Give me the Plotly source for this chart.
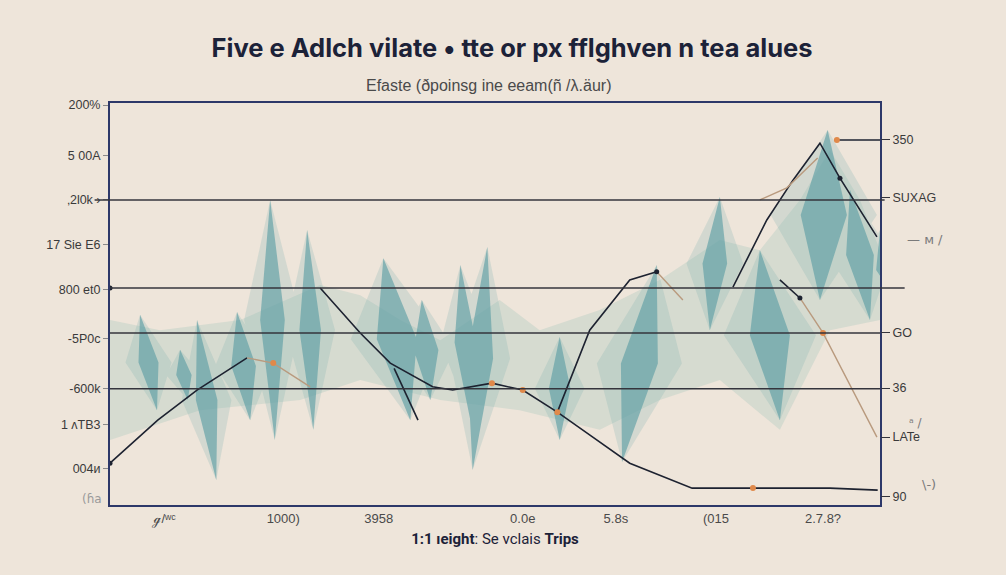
import plotly.graph_objects as go

# ---------------- data ----------------
x_tick_vals = [7.1, 22.5, 34.9, 53.6, 65.7, 78.7, 92.6]
x_tick_text = ["ℊ/ʷᶜ", "1000)", "3958", "0.0e", "5.8s", "(015", "2.7.8?"]

left_tick_vals = [99.5, 87.0, 76.0, 64.7, 53.5, 41.5, 29.0, 20.0, 9.0]
left_tick_text = ["200%", "5 00A", "\u201a2l0k \u203a", "17 Sie E6", "800 et0", "-5P0c", "-600k", "1 \u028cTB3", "004\u1d0e"]

right_tick_vals = [90.8, 76.4, 42.8, 29.1, 16.9, 2.0]
right_tick_text = ["350", "SUXAG", "GO", "36", "LATe", "90"]

grid_levels = [75.9, 54.0, 42.8, 28.9]

# teal blades: top point, bottom point, half width at the middle
blade_top_x = [3.9, 9.1, 11.3, 16.5, 20.8, 25.6, 35.5, 40.5, 45.5, 49.0, 58.4, 71.0, 79.2, 84.4, 93.2, 96.1, 100.0]
blade_top_y = [47.3, 38.6, 46.0, 48.0, 75.9, 68.4, 61.4, 51.0, 59.7, 64.2, 41.8, 59.7, 76.6, 63.4, 93.3, 78.4, 68.4]
blade_bot_x = [6.1, 10.1, 13.8, 18.2, 21.4, 26.4, 39.0, 41.6, 46.8, 47.1, 58.4, 66.5, 77.9, 87.0, 92.2, 98.7, 103.0]
blade_bot_y = [23.6, 26.1, 6.2, 21.1, 16.2, 18.7, 21.1, 26.1, 21.1, 8.7, 16.2, 10.7, 43.5, 21.1, 51.0, 46.0, 48.5]
blade_half_w = [1.3, 1.0, 1.4, 1.6, 1.6, 1.4, 2.6, 1.6, 1.4, 1.7, 1.4, 2.4, 1.6, 2.6, 3.0, 1.8, 2.0]

# soft sage haze band
sage_up_x = [0, 6.5, 16.9, 27.3, 32.5, 37.7, 42.9, 50.6, 55.8, 63.6, 71.4, 79.2, 84.4, 89.6, 93.5, 97.4, 100]
sage_up_y = [46.0, 43.5, 46.0, 54.7, 52.2, 46.0, 41.0, 51.0, 43.5, 48.5, 56.0, 65.9, 63.4, 75.9, 88.3, 75.9, 63.4]
sage_lo_x = [0, 11.7, 24.7, 32.5, 42.9, 53.2, 63.6, 71.4, 79.2, 87.0, 93.5, 100]
sage_lo_y = [16.2, 23.6, 26.1, 31.1, 26.1, 23.6, 18.7, 26.1, 31.1, 18.7, 43.5, 46.0]

# dark line series
dark1_x = [0, 6.2, 11.3, 17.8]
dark1_y = [10.4, 21.1, 28.6, 36.6]
dark2_x = [27.3, 32.5, 36.4, 41.9, 44.5, 49.6, 53.6, 58.1, 62.7, 67.5, 75.6, 83.5, 93.5, 99.7]
dark2_y = [54.0, 42.8, 35.3, 29.4, 28.6, 30.3, 28.6, 23.1, 16.9, 10.4, 4.2, 4.2, 4.2, 3.7]
dark3_x = [58.1, 62.3, 67.5, 71.0]
dark3_y = [23.1, 43.5, 56.0, 58.0]
dark4_x = [80.9, 85.3, 88.7, 92.2, 94.8, 99.6]
dark4_y = [54.2, 70.9, 80.8, 90.0, 81.3, 66.7]
dark5_x = [94.4, 100]
dark5_y = [90.8, 90.8]
dark6_x = [36.9, 40.0]
dark6_y = [34.0, 21.1]
dark7_x = [87.0, 89.6]
dark7_y = [56.0, 51.5]

# tan series
tan1_x = [17.8, 21.2, 26.0]
tan1_y = [36.6, 35.3, 29.4]
tan2_x = [71.0, 74.4]
tan2_y = [58.0, 51.0]
tan3_x = [84.4, 87.9, 91.9]
tan3_y = [75.9, 78.9, 86.3]
tan4_x = [89.6, 92.6, 99.6]
tan4_y = [51.5, 42.8, 16.9]

orange_x = [21.2, 49.6, 53.6, 58.1, 83.5, 94.4, 92.6]
orange_y = [35.3, 30.3, 28.6, 23.1, 4.2, 90.8, 42.8]
dot_x = [0, 0, 71.0, 89.6, 94.8]
dot_y = [54.0, 10.4, 58.0, 51.5, 81.3]

# ---------------- figure ----------------
BG = "#eee5da"
NAVY = "#2d3869"
DARK = "#1d2230"
TAN = "#b99a7e"
ORANGE = "#e0894a"

fig = go.Figure()

# sage haze
fig.add_trace(go.Scatter(x=sage_lo_x, y=sage_lo_y, mode="lines", line=dict(width=0), hoverinfo="skip", showlegend=False))
fig.add_trace(go.Scatter(x=sage_up_x, y=sage_up_y, mode="lines", line=dict(width=0), fill="tonexty",
                         fillcolor="rgba(160,196,186,0.30)", hoverinfo="skip", showlegend=False))


def blade_polys(scale):
    bx, by = [], []
    for tx, ty, qx, qy, w in zip(blade_top_x, blade_top_y, blade_bot_x, blade_bot_y, blade_half_w):
        mx, my = (tx + qx) / 2, (ty + qy) / 2
        bx += [tx, mx + w * scale, qx, mx - w * scale, tx, None]
        by += [ty, my, qy, my, ty, None]
    return bx, by


# faint wide halo of the blades
hx, hy = blade_polys(2.3)
fig.add_trace(go.Scatter(x=hx, y=hy, mode="lines", line=dict(width=0), fill="toself",
                         fillcolor="rgba(120,172,172,0.22)", hoverinfo="skip", showlegend=False))
# teal blades
bx, by = blade_polys(1.0)
fig.add_trace(go.Scatter(x=bx, y=by, mode="lines", line=dict(width=0), fill="toself",
                         fillcolor="rgba(95,160,165,0.66)", hoverinfo="skip", showlegend=False))

for xs, ys in [(dark1_x, dark1_y), (dark2_x, dark2_y), (dark3_x, dark3_y), (dark4_x, dark4_y),
               (dark5_x, dark5_y), (dark6_x, dark6_y), (dark7_x, dark7_y)]:
    fig.add_trace(go.Scatter(x=xs, y=ys, mode="lines", line=dict(color=DARK, width=1.6), showlegend=False))
for xs, ys in [(tan1_x, tan1_y), (tan2_x, tan2_y), (tan3_x, tan3_y), (tan4_x, tan4_y)]:
    fig.add_trace(go.Scatter(x=xs, y=ys, mode="lines", line=dict(color=TAN, width=1.4), showlegend=False))

fig.add_trace(go.Scatter(x=orange_x, y=orange_y, mode="markers", marker=dict(color=ORANGE, size=6), showlegend=False))
fig.add_trace(go.Scatter(x=dot_x, y=dot_y, mode="markers", marker=dict(color=DARK, size=5), showlegend=False))

# right axis carrier
fig.add_trace(go.Scatter(x=[None], y=[None], yaxis="y2", showlegend=False))

shapes = []
grid_extent = {75.9: (-0.02, 1.006), 54.0: (0, 1.032), 42.8: (0, 1.0), 28.9: (0, 1.0)}
for lv in grid_levels:
    x0, x1 = grid_extent[lv]
    shapes.append(dict(type="line", xref="paper", yref="y", x0=x0, x1=x1, y0=lv, y1=lv,
                       line=dict(color="#34343c", width=1.5), layer="above"))

W, H = 1006, 575
ML, MR, MT, MB = 110, 126, 103, 70
PW, PH = W - ML - MR, H - MT - MB


def px_to_paper(px, py):
    return (px - ML) / PW, (H - MB - py) / PH


annots = []
for text, px, py, size, color, fam in [
    ("Efaste (\u00f0poinsg ine eeam(\u00f1 /\u03bb.\u00e4ur)", 488, 75, 16, "#4a4a4a", "Liberation Sans"),
    ("\u2014 \u1d0d /", 945, 230, 13, "#7a7a7a", "DejaVu Sans"),
    ("\u1d43 /", 925, 432, 12, "#7a7a7a", "DejaVu Sans"),
    ("\\-)", 938, 494, 13, "#7a7a7a", "DejaVu Sans"),
    ("(\u0266a", 80, 508, 12, "#9a9a9a", "DejaVu Sans"),
]:
    ax, ay = px_to_paper(px, py)
    annots.append(dict(text=text, x=ax, y=ay, xref="paper", yref="paper", showarrow=False,
                       font=dict(family=fam, size=size, color=color)))

fig.update_layout(
    width=W, height=H,
    paper_bgcolor=BG, plot_bgcolor=BG,
    margin=dict(l=ML, r=MR, t=MT, b=MB),
    title=dict(
        text="Five e Adlch vilate \u2022 tte or px fflghven n tea alues",
        x=0.509, xanchor="center", y=1 - 48 / H, yanchor="middle",
        font=dict(family="Inter, Roboto, sans-serif", size=25.5, color="#1c2238", weight="bold"),
    ),
    xaxis=dict(range=[0, 100], showgrid=False, zeroline=False,
               showline=True, mirror=True, linecolor=NAVY, linewidth=2,
               tickmode="array", tickvals=x_tick_vals, ticktext=x_tick_text,
               ticks="", tickfont=dict(family="Liberation Sans", size=13, color="#4a4a4a"),
               title=dict(text="<b>1:1 \u0131eight</b>: Se vclais <b>Trips</b>",
                          font=dict(family="Roboto, sans-serif", size=15, color="#1c2238"), standoff=6)),
    yaxis=dict(range=[0, 100], showgrid=False, zeroline=False,
               showline=True, mirror=True, linecolor=NAVY, linewidth=2,
               tickmode="array", tickvals=left_tick_vals, ticktext=left_tick_text,
               ticks="outside", ticklen=5, tickcolor="#8a8a8a",
               tickfont=dict(family="Liberation Sans", size=12.5, color="#3a3a3a")),
    yaxis2=dict(range=[0, 100], overlaying="y", side="right", showgrid=False, zeroline=False,
                showline=False, tickmode="array", tickvals=right_tick_vals, ticktext=right_tick_text,
                ticks="outside", ticklen=9, tickcolor="#34343c",
                tickfont=dict(family="Liberation Sans", size=12.5, color="#3a3a3a")),
    shapes=shapes,
    annotations=annots,
)

fig.write_html("out.html")
